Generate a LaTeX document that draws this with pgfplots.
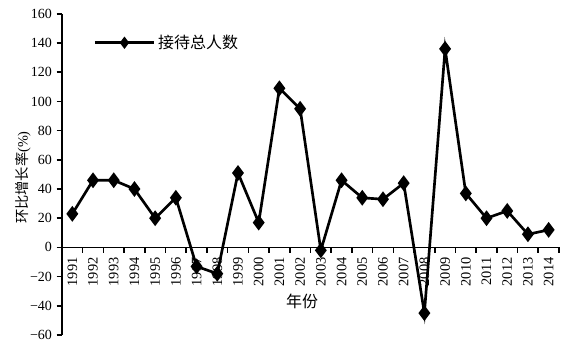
\documentclass[border=0pt]{standalone}
\usepackage{pgfplots}
\pgfplotsset{compat=1.18}
\usepackage{fontspec}
\setmainfont{Liberation Serif}
\newfontfamily\cjk{Noto Sans CJK SC}
\begin{document}
\begin{tikzpicture}
\useasboundingbox (-46.5pt,-4.5pt) rectangle (382pt,251.4pt);
\begin{axis}[
  at={(0,0)}, anchor=south west,
  scale only axis,
  width=373pt, height=241pt,
  xmin=0.5, xmax=24.5,
  ymin=-60, ymax=160,
  axis x line=middle,
  axis y line=left,
  axis line style={-, line width=1.2pt},
  ytick={-60,-40,...,160},
  yticklabels={−60,−40,−20,0,20,40,60,80,100,120,140,160},
  xtick={1,...,24},
  xticklabels={1991,1992,1993,1994,1995,1996,1997,1998,1999,2000,2001,2002,2003,2004,2005,2006,2007,2008,2009,2010,2011,2012,2013,2014},
  minor xtick={1.5,2.5,...,24.5},
  major x tick style={draw=none},
  minor x tick style={line width=1.2pt, black},
  y tick style={line width=1.2pt, black},
  tick align=outside,
  minor tick length=4pt,
  major tick length=4pt,
  xticklabel style={rotate=90, anchor=east, font=\fontsize{10.8}{12}\selectfont},
  yticklabel style={font=\fontsize{10.5}{12}\selectfont},
  ylabel={\cjk 环比增长率\rmfamily(\%)},
  ylabel style={at={(axis description cs:-0.078,0.49)}, anchor=center, font=\fontsize{10.7}{12}\selectfont},
  legend style={at={(axis description cs:0.055,0.91)}, anchor=west, draw=none, fill=none, font=\fontsize{12}{13}\selectfont},
  legend image code/.code={\draw[mark repeat=2,mark phase=2,#1,mark size=3pt] plot coordinates {(0cm,0cm) (0.78cm,0cm) (1.56cm,0cm)};},
  legend cell align=left,
  clip=false,
]
\addplot[black, line width=2pt, mark=diamond*, mark size=4.3pt, mark options={solid}] coordinates {
(1,23) (2,46) (3,46) (4,40) (5,20) (6,34) (7,-13) (8,-18) (9,51) (10,17)
(11,109) (12,95) (13,-2) (14,46) (15,34) (16,33) (17,44) (18,-45) (19,136) (20,37)
(21,20) (22,25) (23,9) (24,12)
};
\addlegendentry{\cjk 接待总人数}
\node[font=\cjk\fontsize{12}{13}\selectfont] at (axis cs:12.1,-37) {年份};
\end{axis}
\end{tikzpicture}
\end{document}
